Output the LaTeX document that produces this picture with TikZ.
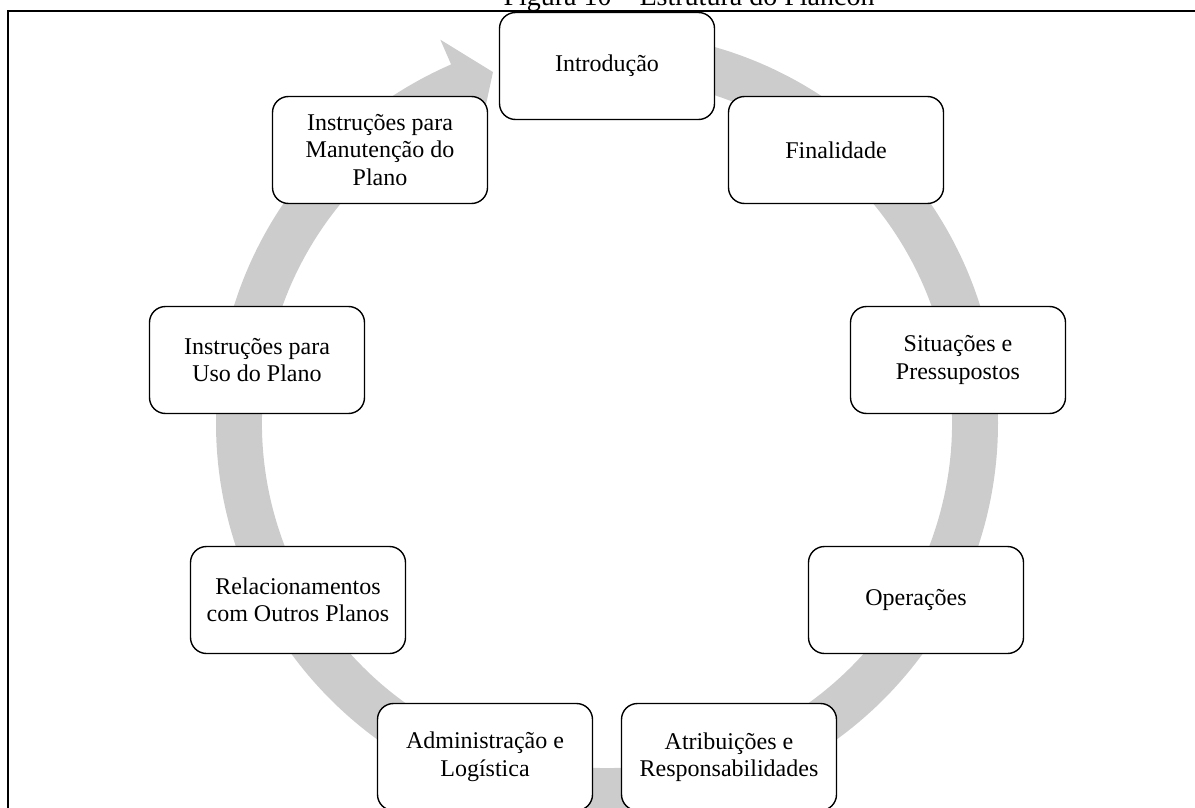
\documentclass[tikz,border=0pt]{standalone}
\usepackage{fontspec}
\setmainfont{Liberation Serif}
\usetikzlibrary{calc}
\definecolor{ringgray}{RGB}{204,204,204}
\tikzset{
  stepbox/.style={draw=black, line width=1.4pt, fill=white, rounded corners=16pt,
    minimum width=215pt, minimum height=107pt, align=center,
    font=\fontsize{24}{27.5}\selectfont},
}
\begin{document}
\begin{tikzpicture}[x=1pt,y=1pt]
  \clip (0,0) rectangle (1195,-808);
  \useasboundingbox (0,0) rectangle (1195,-808);

  % caption, its upper half above the page
  \node[anchor=base, inner sep=0pt, font=\fontsize{28}{30}\selectfont] (title) at (689,-6)
    {Figura 10 – Estrutura do Plancon};

  % frame
  \draw[line width=2pt] (1215,-11.5) -- (8,-11.5) -- (8,-830);

  % circular arrow behind the boxes
  \begin{scope}[shift={(607,-423)}]
    \fill[ringgray] (90:391) arc[start angle=90, end angle=-246.5, radius=391]
      -- (113.5:418) -- (108:369) -- (113.5:318) -- (113.5:345)
      arc[start angle=-246.5, end angle=90, radius=345] -- cycle;
  \end{scope}

  % steps of the cycle
  \node[stepbox] (intro) at (607,-66) {Introdução};
  \node[stepbox] (final) at (836,-150) {Finalidade};
  \node[stepbox] (sit)   at (958,-360) {Situações e\\Pressupostos};
  \node[stepbox] (oper)  at (916,-600) {Operações};
  \node[stepbox] (atrib) at (729,-757) {Atribuições e\\Responsabilidades};
  \node[stepbox] (adm)   at (485,-757) {Administração e\\Logística};
  \node[stepbox] (rel)   at (298,-600) {Relacionamentos\\com Outros Planos};
  \node[stepbox] (uso)   at (257,-360) {Instruções para\\Uso do Plano};
  \node[stepbox] (manut) at (380,-150) {Instruções para\\Manutenção do\\Plano};
\end{tikzpicture}
\end{document}
